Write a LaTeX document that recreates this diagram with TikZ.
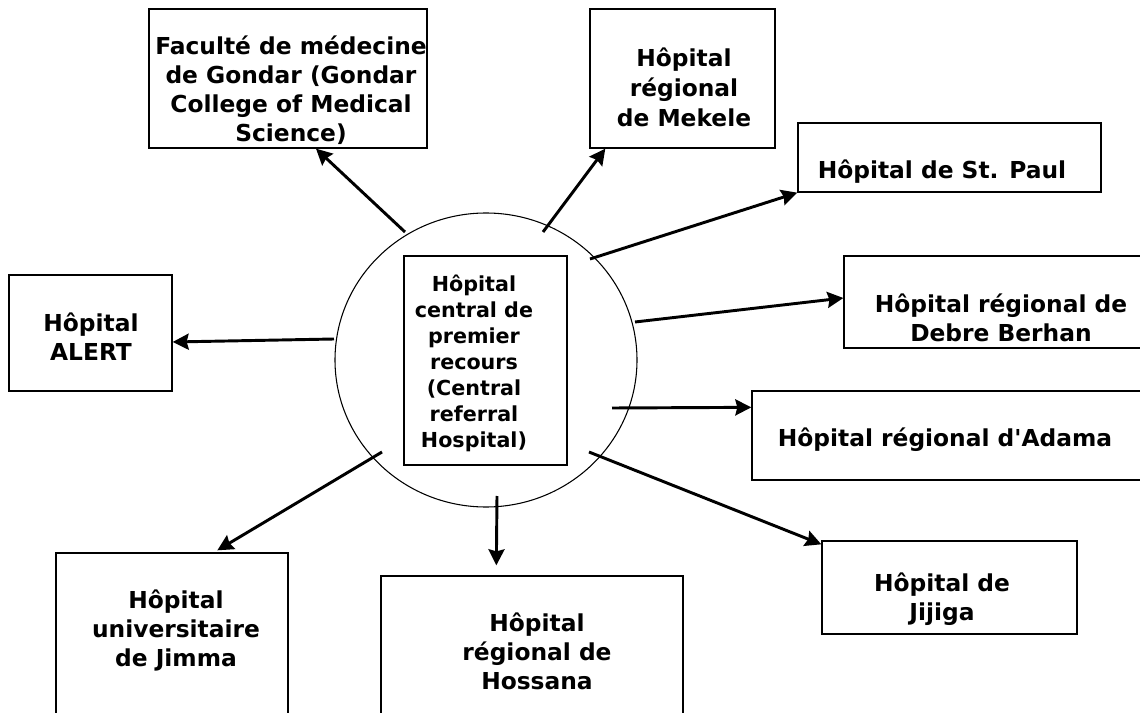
\documentclass[tikz,border=0pt]{standalone}
\usepackage{fontspec}
\setmainfont{DejaVu Sans}
\usetikzlibrary{shapes,arrows.meta,calc}

\begin{document}
\begin{tikzpicture}[x=0.75pt,y=-0.75pt,
    box/.style={draw, line width=1pt, inner sep=0pt},
    txt/.style={align=center, inner sep=0pt, font=\bfseries\fontsize{17.5}{21.75}\selectfont},
    link/.style={-{Stealth[length=12pt,width=12pt,inset=1.5pt]}, line width=2.2pt}]
    \useasboundingbox (0,0) rectangle (1140,713);
    \clip (0,0) rectangle (1140,713);

    \node[draw, ellipse, line width=0.8pt, inner sep=0pt, minimum width=226.5pt, minimum height=220.5pt] (hub) at (486,360) {};
    \node[box, minimum width=122.25pt, minimum height=156.75pt] (ref) at (485.5,360.5) {};
    \node[txt, font=\bfseries\fontsize{15.5}{19.5}\selectfont] (refT) at (474,363) {Hôpital\\central de\\premier\\recours\\(Central\\referral\\Hospital)};

    \node[box, minimum width=208.5pt, minimum height=104.25pt] (fac) at (288,78.5) {};
    \node[box, minimum width=138.75pt, minimum height=104.25pt] (mek) at (682.5,78.5) {};
    \node[box, minimum width=227.25pt, minimum height=51.75pt] (paul) at (949.5,157.5) {};
    \node[box, minimum width=229.5pt, minimum height=69pt] (debre) at (997,302) {};
    \node[box, minimum width=298.5pt, minimum height=66.75pt] (adama) at (951,435.5) {};
    \node[box, minimum width=191.25pt, minimum height=69.75pt] (jij) at (949.5,587.5) {};
    \node[box, minimum width=226.5pt, minimum height=123pt] (hoss) at (532,658) {};
    \node[box, minimum width=174pt, minimum height=140.25pt] (jimma) at (172,646.5) {};
    \node[box, minimum width=122.25pt, minimum height=87pt] (alert) at (90.5,333) {};

    \node[txt] (facT) at (291,90) {Faculté de médecine\\de Gondar (Gondar\\College of Medical\\Science)};
    \node[txt, font=\bfseries\fontsize{17.5}{22.5}\selectfont] (mekT) at (684,87) {Hôpital\\régional\\de Mekele};
    \node[txt] (paulT) at (942,172) {Hôpital de St. Paul};
    \node[txt] (debreT) at (1001,318) {Hôpital régional de\\Debre Berhan};
    \node[txt] (adamaT) at (945,440) {Hôpital régional d\textquotesingle Adama};
    \node[txt] (jijT) at (942,599) {Hôpital de\\Jijiga};
    \node[txt] (hossT) at (537,651) {Hôpital\\régional de\\Hossana};
    \node[txt] (jimmaT) at (176,631) {Hôpital\\universitaire\\de Jimma};
    \node[txt] (alertT) at (91,337) {Hôpital\\ALERT};

    \coordinate (a1) at (405,232);
    \coordinate (a2) at (543,232);
    \coordinate (a3) at (590,259);
    \coordinate (a4) at (635,322);
    \coordinate (a5) at (612,408);
    \coordinate (a6) at (589,452);
    \coordinate (a7) at (497,496);
    \coordinate (a8) at (382,452);
    \coordinate (a9) at (334,339);

    \draw[link] (a1) -- ($(fac.south)+(28,0)$);
    \draw[link] (a2) -- ($(mek.south west)+(16,0)$);
    \draw[link] (a3) -- (paul.south west);
    \draw[link] (a4) -- ($(debre.west)+(0,-4)$);
    \draw[link] (a5) -- ($(adama.north west)+(0,17)$);
    \draw[link] (a6) -- ($(jij.north west)+(0,4)$);
    \draw[link] (a7) -- ($(hoss.north west)+(116,-10)$);
    \draw[link] (a8) -- ($(jimma.north west)+(162,-2)$);
    \draw[link] (a9) -- ($(alert.east)+(0,9)$);
\end{tikzpicture}
\end{document}
